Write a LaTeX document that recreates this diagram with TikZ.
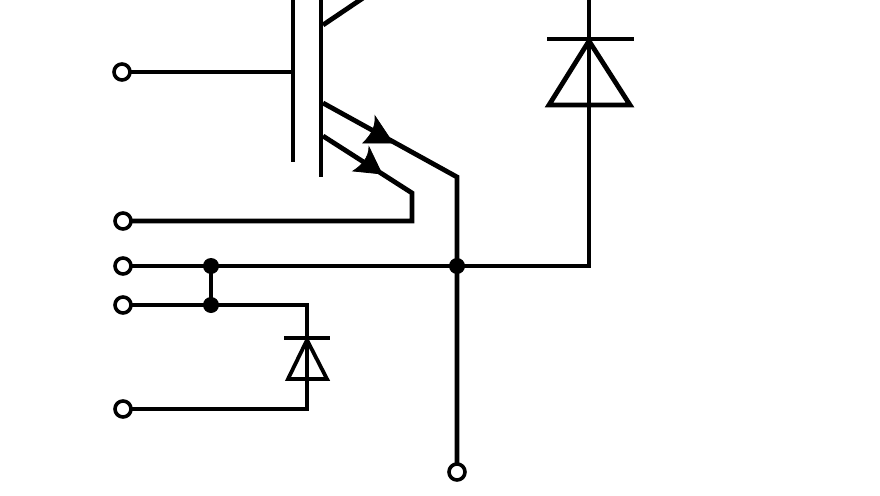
\documentclass[tikz,border=0pt]{standalone}
\begin{document}
\begin{tikzpicture}[x=1pt,y=-1pt,
  wire/.style={line width=4.8pt,line join=miter,line cap=butt},
  thin wire/.style={line width=3.8pt,line join=miter},
  terminal/.style={circle,draw,line width=3.6pt,fill=white,minimum size=16pt,inner sep=0pt},
  junction/.style={circle,fill=black,minimum size=16pt,inner sep=0pt},
  tip/.style={fill=black,draw=black,line width=0.8pt,line join=miter}]
\useasboundingbox (0,0) rectangle (880,495);
\clip (0,0) rectangle (880,495);
% named points
\coordinate (gtop) at (293,-5);
\coordinate (gbot) at (293,162);
\coordinate (ctop) at (321,-5);
\coordinate (cbot) at (321,177);
\coordinate (gjoin) at (293,72);
\coordinate (colA) at (323,25);
\coordinate (colB) at (366,-4);
\coordinate (emA) at (323,103);
\coordinate (emB) at (457,177);
\coordinate (auxA) at (323,136);
\coordinate (auxB) at (412,193);
\coordinate (auxC) at (412,221);
\coordinate (busR) at (589,266);
\coordinate (busT) at (589,-5);
\coordinate (smallC) at (307,305);
\coordinate (smallD) at (307,409);
% wires
\draw[wire] (gtop) -- (gbot);
\draw[wire] (ctop) -- (cbot);
\draw[wire] (colA) -- (colB);
\draw[wire] (emA) -- (emB) -- (457,472);
\draw[wire] (auxA) -- (auxB) -- (auxC) -- (123,221);
\draw[wire] (122,72) -- (gjoin);
\draw[wire] (123,266) -- (busR) -- (busT);
\draw[wire] (123,305) -- (smallC) -- (smallD) -- (123,409);
\draw[wire] (211,266) -- (211,305);
% arrowheads
\filldraw[tip] (393,143) -- (375,116) .. controls (376,128) and (370,136) .. (363,143) -- cycle;
\filldraw[tip] (382,174) -- (369,147) .. controls (369,158) and (361,166) .. (353,171) -- cycle;
% large diode
\draw[wire] (547,39) -- (634,39);
\draw[wire] (589,41) -- (630,105) -- (549,105) -- cycle;
% small diode
\draw[thin wire] (284,338) -- (330,338);
\draw[thin wire] (307,340) -- (327,379) -- (288,379) -- cycle;
% junctions
\node[junction] (j1) at (211,266) {};
\node[junction] (j2) at (211,305) {};
\node[junction] (j3) at (457,266) {};
% terminals
\node[terminal] (t1) at (122,72) {};
\node[terminal] (t2) at (123,221) {};
\node[terminal] (t3) at (123,266) {};
\node[terminal] (t4) at (123,305) {};
\node[terminal] (t5) at (123,409) {};
\node[terminal] (t6) at (457,472) {};
\end{tikzpicture}
\end{document}
